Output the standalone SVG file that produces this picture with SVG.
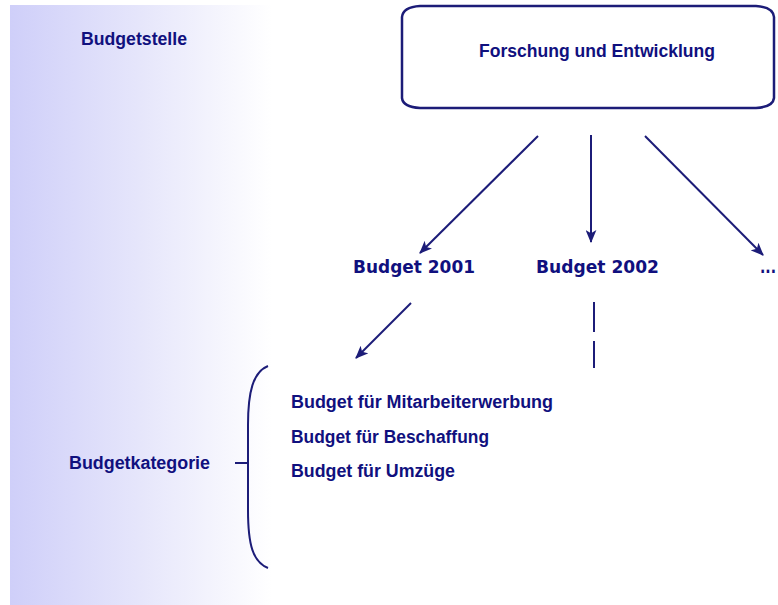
<svg xmlns="http://www.w3.org/2000/svg" width="778" height="605" viewBox="0 0 778 605">
<defs>
<linearGradient id="bg" x1="0" y1="0" x2="1" y2="0">
<stop offset="0" stop-color="#cfcff9"/>
<stop offset="0.5" stop-color="#e6e6fb"/>
<stop offset="1" stop-color="#ffffff"/>
</linearGradient>
<marker id="arr" viewBox="0 0 12 10" refX="11" refY="5" markerWidth="13" markerHeight="11" markerUnits="userSpaceOnUse" orient="auto">
<path d="M0,0 L12,5 L0,10 L3,5 z" fill="#1c1c78"/>
</marker>
</defs>
<style>
.lbl{font-family:"Liberation Sans",Arial,sans-serif;font-weight:bold;font-size:18px;fill:#10107e}
.yr{font-family:"DejaVu Sans",sans-serif;font-weight:bold;font-size:17px;fill:#10107e}
.ln{stroke:#1c1c78;stroke-width:2;fill:none}
</style>
<rect x="10" y="5" width="262" height="600" fill="url(#bg)"/>
<g id="budgetstelle"><text class="lbl" x="81" y="45" textLength="106" lengthAdjust="spacingAndGlyphs">Budgetstelle</text></g>
<g id="fue">
<path d="M420,6 L756,6 Q773,7 774,17 L774,98 Q773,107 756,108 L420,108 Q403,107 402,98 L402,17 Q403,7 420,6 Z" fill="#ffffff" stroke="#1c1c78" stroke-width="2.5"/>
<text class="lbl" x="479" y="57" textLength="236" lengthAdjust="spacingAndGlyphs">Forschung und Entwicklung</text>
</g>
<g id="b2001"><text class="yr" x="353" y="273" textLength="122" lengthAdjust="spacingAndGlyphs">Budget 2001</text></g>
<g id="b2002"><text class="yr" x="536" y="273" textLength="123" lengthAdjust="spacingAndGlyphs">Budget 2002</text></g>
<g id="more"><text class="yr" x="760" y="273" textLength="16" lengthAdjust="spacingAndGlyphs">...</text></g>
<g id="kategorien">
<text class="lbl" x="291" y="407.5" textLength="262" lengthAdjust="spacingAndGlyphs">Budget für Mitarbeiterwerbung</text>
<text class="lbl" x="291" y="443" textLength="198" lengthAdjust="spacingAndGlyphs">Budget für Beschaffung</text>
<text class="lbl" x="291" y="477" textLength="164" lengthAdjust="spacingAndGlyphs">Budget für Umzüge</text>
</g>
<g id="budgetkategorie"><text class="lbl" x="69" y="469" textLength="141" lengthAdjust="spacingAndGlyphs">Budgetkategorie</text></g>
<g id="connectors">
<line class="ln" x1="538" y1="136" x2="420" y2="253" marker-end="url(#arr)"/>
<line class="ln" x1="591" y1="135" x2="591" y2="242" marker-end="url(#arr)"/>
<line class="ln" x1="645" y1="136" x2="763" y2="255" marker-end="url(#arr)"/>
<line class="ln" x1="411" y1="303" x2="356" y2="358" marker-end="url(#arr)"/>
<line class="ln" x1="594" y1="302" x2="594" y2="332"/>
<line class="ln" x1="594" y1="341" x2="594" y2="368"/>
<path class="ln" stroke-width="2.5" d="M268,366 C253,372 248,392 248,425 L248,510 C248,545 253,562 268,568"/>
<line class="ln" x1="235" y1="463" x2="248" y2="463"/>
</g>
</svg>
